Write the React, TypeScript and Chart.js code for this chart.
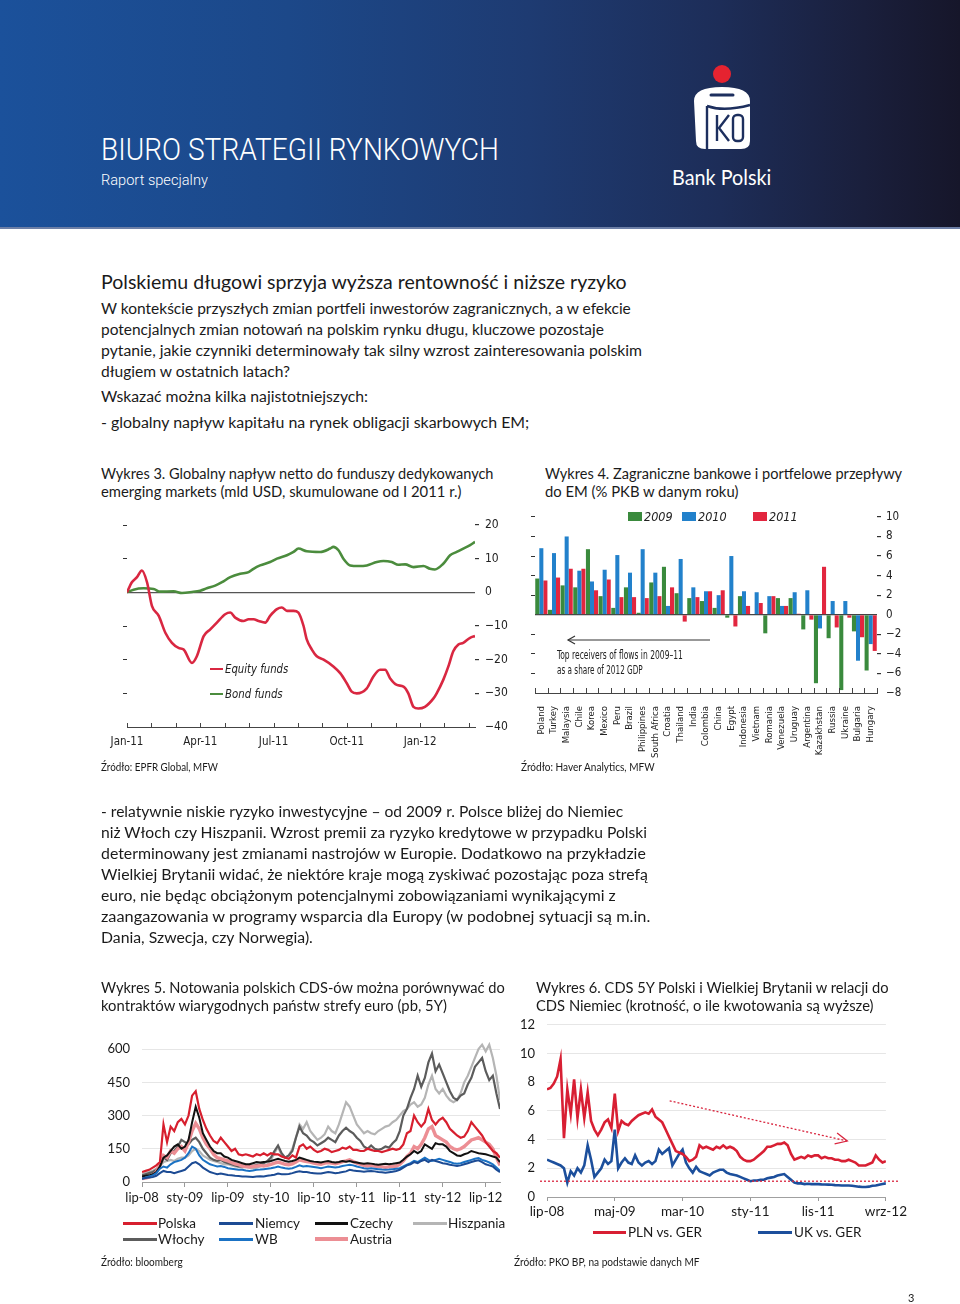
import React, { useEffect, useLayoutEffect, useRef, useState } from 'react';
import { Chart, registerables } from 'chart.js';
Chart.register(...registerables);

// ---------------- Wykres 3 (mld USD, months since Jan-11) ----------------
const w3TickMonths = [0, 3, 6, 9, 12];
const w3TickLabels = ['Jan-11', 'Apr-11', 'Jul-11', 'Oct-11', 'Jan-12'];
const equityMonths = [0, 0.2, 0.41, 0.61, 0.82, 1.02, 1.3, 1.57, 1.84, 2.11, 2.32, 2.66, 2.86, 3.14, 3.41, 3.68, 4.02, 4.23, 4.43, 4.77, 4.98, 5.18, 5.39, 5.66, 5.86, 6.14, 6.34, 6.55, 6.82, 7.02, 7.23, 7.36, 7.57, 7.77, 8.05, 8.45, 8.73, 9.0, 9.2, 9.41, 9.82, 10.09, 10.36, 10.57, 10.77, 11.05, 11.32, 11.52, 11.73, 11.93, 12.2, 12.55, 12.68, 12.95, 13.16, 13.36, 13.57, 13.77, 14.05, 14.25];
const equityValues = [0, 3, 4.5, 6.5, 3, -4, -7, -12, -15, -16.5, -17, -21, -19, -13, -11, -9, -6.5, -6, -7.5, -8.5, -8, -8, -8.5, -9, -7, -5, -4.5, -5.5, -5.5, -6, -10, -14, -17, -19, -20, -22, -24, -27, -29.5, -30, -28.5, -25, -23, -23, -25.5, -27.5, -28, -30, -34, -34.5, -34, -31.5, -30, -26, -22, -17.5, -15.5, -15, -13.5, -13];
const bondMonths = [0, 0.27, 0.68, 1.09, 1.36, 1.91, 2.25, 2.66, 3.0, 3.27, 3.61, 3.89, 4.23, 4.64, 4.98, 5.18, 5.45, 5.86, 6.14, 6.55, 6.82, 7.02, 7.36, 7.91, 8.32, 8.45, 8.66, 8.86, 9.14, 9.48, 9.82, 10.23, 10.5, 10.84, 11.11, 11.39, 11.73, 12.14, 12.41, 12.61, 12.95, 13.23, 13.5, 13.77, 14.05, 14.25];
const bondValues = [0, 0.8, 1.2, 1, 0.2, 0.3, -0.2, 0.1, 0.5, 1.2, 2, 3, 4.5, 5.5, 6, 7, 8, 9, 10, 11, 12, 13, 12.2, 12, 13, 13.5, 12.5, 10, 8, 7.8, 8, 9, 9.3, 9, 8.2, 8.3, 7.5, 7.8, 7, 6.8, 8.5, 11, 12, 13, 14, 15];

// ---------------- Wykres 4 (% PKB) ----------------
const w4Countries = ['Poland', 'Turkey', 'Malaysia', 'Chile', 'Korea', 'Mexico', 'Peru', 'Brazil', 'Philippines', 'South Africa', 'Croatia', 'Thailand', 'India', 'Colombia', 'China', 'Egypt', 'Indonesia', 'Vietnam', 'Romania', 'Venezuela', 'Uruguay', 'Argentina', 'Kazakhstan', 'Russia', 'Ukraine', 'Bulgaria', 'Hungary'];
const w4y2009 = [3.7, 0.5, 3.0, 2.8, 6.7, 1.9, 0.7, 2.8, 0.2, 3.3, 4.9, 2.2, 1.7, 1.4, 0.7, -0.3, 1.9, 0.0, -1.9, 1.7, 1.7, -1.5, -7.0, -2.4, -7.7, -1.7, -5.7];
const w4y2010 = [6.8, 6.3, 8.0, 4.5, 3.4, 4.6, 6.1, 4.3, 6.7, 4.3, 0.9, 5.7, 2.8, 2.4, 2.0, 6.0, 2.4, 2.3, 1.9, 0.9, 2.3, 2.5, -1.4, 1.4, 1.4, -4.7, -3.0];
const w4y2011 = [3.5, 3.8, 4.7, 4.7, 2.5, 3.6, 1.8, 1.8, 1.7, 1.9, 2.8, -0.7, 1.8, 2.4, 2.5, -1.2, 0.9, 1.2, 1.9, 0.9, 0.1, -0.5, 4.9, -1.3, -0.3, -2.3, -3.7];

// ---------------- Wykres 5 (pb, half-month samples from lip-08) ----------------
const w5TickMonths = [0, 6, 12, 18, 24, 30, 36, 42, 48];
const w5TickLabels = ['lip-08', 'sty-09', 'lip-09', 'sty-10', 'lip-10', 'sty-11', 'lip-11', 'sty-12', 'lip-12'];
const w5YTicks = [0, 150, 300, 450, 600];
const polska = [
  45, 50, 55, 65, 75, 90, 260, 180, 250, 230,
  270, 285, 260, 300, 390, 410, 330, 280, 240, 210,
  185, 175, 200, 180, 160, 140, 150, 125, 120, 125,
  120, 115, 125, 120, 130, 120, 130, 125, 125, 115,
  110, 105, 120, 110, 160, 170, 150, 160, 145, 135,
  140, 150, 145, 135, 140, 145, 155, 150, 160, 145,
  145, 140, 140, 150, 145, 140, 140, 135, 140, 145,
  150, 145, 150, 170, 220, 230, 300, 270, 250, 270,
  330, 280, 260, 280, 290, 270, 240, 225, 210, 200,
  205, 230, 270, 250, 230, 210, 180, 160, 140, 130,
  110];
const wlochy = [
  30, 35, 40, 45, 55, 70, 110, 100, 130, 140,
  160, 190, 180, 170, 190, 200, 180, 150, 130, 110,
  100, 95, 100, 90, 85, 80, 75, 70, 70, 72,
  75, 72, 78, 80, 85, 95, 110, 140, 165, 130,
  110, 120, 140, 200, 250, 220, 210, 190, 180, 165,
  175, 185, 200, 190, 180, 210, 230, 245, 230, 220,
  200, 185, 160, 150, 165, 150, 145, 150, 160, 155,
  175, 190, 230, 300, 330, 380, 420, 480, 430, 470,
  540, 580, 500, 530, 490, 450, 410, 380, 370, 390,
  400, 440, 470, 520, 540, 560, 500, 460, 480, 400,
  330];
const hiszpania = [
  35, 40, 45, 50, 60, 70, 90, 95, 100, 95,
  105, 110, 110, 120, 140, 150, 140, 120, 110, 100,
  95, 90, 85, 80, 80, 75, 70, 68, 65, 68,
  65, 62, 65, 70, 75, 80, 100, 130, 160, 120,
  110, 120, 150, 200, 260, 240, 270, 230, 210, 190,
  200, 215, 250, 230, 220, 260, 310, 360, 340, 300,
  260, 240, 220, 230, 220, 215, 230, 240, 250, 255,
  270, 280, 300, 320, 330, 350, 360, 340, 350, 380,
  440, 480, 420, 400, 420, 390, 370, 360, 370, 400,
  450, 480, 520, 560, 600, 620, 590, 620, 560, 480,
  370];
const czechy = [
  25, 28, 30, 35, 45, 70, 110, 120, 140, 160,
  170, 150, 160, 190, 270, 340, 290, 220, 190, 160,
  140, 130, 130, 115, 110, 100, 95, 90, 85, 80,
  80, 85, 90, 88, 90, 92, 95, 100, 105, 100,
  95, 92, 95, 100, 110, 105, 100, 95, 92, 90,
  88, 92, 95, 90, 88, 90, 95, 92, 95, 90,
  88, 85, 82, 85, 83, 80, 78, 80, 82, 80,
  82, 85, 88, 100, 115, 125, 140, 130, 140, 170,
  160, 150, 175, 170, 170, 160, 140, 130, 120, 118,
  125, 130, 140, 135, 130, 128, 125, 120, 115, 110,
  90];
const niemcy = [
  15, 18, 20, 22, 28, 40, 50, 45, 45, 40,
  45, 50, 55, 70, 85, 90, 80, 65, 55, 45,
  40, 35, 38, 35, 32, 30, 28, 27, 25, 25,
  24, 23, 25, 26, 25, 28, 30, 33, 38, 35,
  35, 36, 40, 45, 48, 45, 45, 42, 40, 38,
  38, 42, 45, 43, 40, 42, 45, 48, 55, 52,
  50, 48, 46, 48, 50, 48, 45, 44, 42, 44,
  46, 50, 55, 65, 75, 80, 90, 85, 95, 100,
  90, 100, 95, 90, 85, 82, 78, 75, 72, 75,
  80, 85, 90, 95, 98, 90, 80, 75, 70, 55,
  45];
const wb = [
  15, 20, 25, 30, 40, 60, 70, 65, 80, 90,
  95, 100, 110, 130, 160, 150, 120, 100, 90, 80,
  75, 70, 72, 68, 62, 60, 58, 55, 55, 52,
  50, 52, 55, 56, 58, 60, 62, 65, 70, 65,
  62, 60, 62, 68, 75, 70, 72, 70, 68, 65,
  62, 66, 70, 68, 66, 68, 72, 75, 78, 75,
  70, 66, 62, 60, 62, 60, 58, 56, 55, 56,
  58, 60, 62, 70, 78, 85, 95, 90, 100, 110,
  100, 95, 100, 105, 100, 95, 90, 85, 82, 85,
  90, 95, 100, 105, 108, 100, 95, 88, 80, 65,
  50];
const austria = [
  15, 18, 22, 30, 45, 80, 120, 110, 140, 130,
  150, 160, 140, 180, 230, 265, 240, 200, 170, 150,
  125, 110, 105, 100, 95, 88, 82, 78, 72, 70,
  68, 70, 72, 75, 72, 75, 80, 85, 90, 85,
  80, 78, 82, 90, 100, 95, 92, 90, 85, 82,
  80, 85, 88, 85, 82, 86, 92, 95, 100, 92,
  85, 80, 75, 72, 75, 72, 70, 68, 66, 68,
  70, 72, 80, 95, 115, 130, 160, 150, 170, 200,
  240, 250, 210, 200, 190, 180, 160, 150, 145, 150,
  160, 175, 190, 195, 200, 190, 180, 170, 150, 110,
  75];

// ---------------- Wykres 6 (krotność, half-month samples from lip-08) ----------------
const w6TickMonths = [0, 10, 20, 30, 40, 50];
const w6TickLabels = ['lip-08', 'maj-09', 'mar-10', 'sty-11', 'lis-11', 'wrz-12'];
const plnVsGer = [
  7.5, 7.6, 7.9, 8.4, 9.6, 4.1, 7.5, 5.8, 8.2, 5.5,
  7.5, 5.5, 7.3, 5.3, 4.7, 4.3, 4.7, 5.2, 5.4, 4.8,
  7.2, 4.6, 5.3, 5.1, 5.0, 5.3, 5.5, 5.7, 5.8, 5.9,
  5.8, 6.1, 5.6, 5.4, 5.2, 4.7, 4.2, 3.7, 3.2, 3.1,
  3.0, 2.8, 2.5, 2.6, 2.8, 3.6, 3.4, 3.5, 3.4, 3.3,
  3.5, 3.4, 3.6, 3.4, 3.5, 3.4, 3.2, 2.8, 2.6, 2.5,
  2.5, 2.6, 2.8, 3.0, 3.2, 3.5, 3.5, 3.6, 3.7, 3.7,
  3.8, 3.6, 3.0, 2.6, 2.7, 2.8, 2.7, 2.9, 2.8, 2.9,
  2.9, 2.7, 2.8, 2.7, 2.7, 2.6, 2.6, 2.5, 2.5, 2.6,
  2.5, 2.4, 2.2, 2.2, 2.2, 2.3, 2.4, 2.9, 2.6, 2.4,
  2.5];
const ukVsGer = [
  2.6, 2.5, 2.4, 2.3, 2.2, 2.0, 1.0, 1.8, 1.5, 2.0,
  1.7, 2.2, 3.6, 2.6, 1.4, 1.7, 2.0, 2.6, 2.3, 2.5,
  4.7, 2.0, 2.4, 2.7, 2.4, 2.3, 2.9, 2.4, 2.2, 2.4,
  2.5, 2.3, 2.5, 3.3, 3.0, 3.2, 3.4, 2.2, 2.6, 3.0,
  3.3, 2.4, 2.0, 1.7, 2.1, 1.8, 1.7, 1.6, 1.5, 1.7,
  1.8, 1.9, 1.9, 1.7, 1.6, 1.55, 1.5, 1.4, 1.3, 1.2,
  1.1, 1.15, 1.15, 1.2, 1.2, 1.3, 1.35, 1.4, 1.5, 1.55,
  1.6, 1.4, 1.2, 1.0, 0.95, 0.95, 0.9, 0.92, 0.9, 0.9,
  0.9, 0.88, 0.87, 0.86, 0.85, 0.83, 0.82, 0.8, 0.8, 0.8,
  0.78, 0.75, 0.72, 0.7, 0.7, 0.72, 0.78, 0.8, 0.85, 0.9,
  0.95];
const parityLevel = 1.1;
const trendFrom = [18.1, 6.7];
const trendTo = [44.3, 3.9];

// ---------------- styling ----------------
const BODY = 'Lato, "Noto Sans", "DejaVu Sans", sans-serif';
const COND = '"Liberation Sans Narrow", "DejaVu Sans Condensed", Roboto, "Liberation Sans", sans-serif';
const THIN = 'Roboto, "Liberation Sans", sans-serif';
const INK = '#1a1a1a';
const CLEAR = 'rgba(0,0,0,0)';
const signed = (v: number) => (v < 0 ? '\u2212' + Math.abs(v) : String(v));
const halfMonth = (arr: number[]) => arr.map((v, i) => ({ x: i / 2, y: v }));
const pairs = (xs: number[], ys: number[]) => xs.map((x, i) => ({ x, y: ys[i] }));

function T(props: any) {
  const { x, y, text, size, w, family = BODY, color = INK, italic, weight } = props;
  const ref = useRef<HTMLSpanElement>(null);
  const [sx, setSx] = useState(1);
  useLayoutEffect(() => {
    if (!w || !ref.current) return;
    const nat = ref.current.offsetWidth;
    if (nat > 0) setSx(w / nat);
  }, [w, text]);
  const lh = size * 1.2;
  return (
    <span
      ref={ref}
      style={{
        position: 'absolute', left: x, top: y - 0.62 * size, fontSize: size, lineHeight: lh + 'px',
        fontFamily: family, color, whiteSpace: 'nowrap', fontStyle: italic ? 'italic' : 'normal',
        fontWeight: weight ?? 400, transform: `scaleX(${sx})`, transformOrigin: '0 0',
      }}
    >{text}</span>
  );
}

function Box(props: any) {
  const { x, y, w, h, bg } = props;
  return <div style={{ position: 'absolute', left: x, top: y, width: w, height: h, background: bg }} />;
}

function ChartBox(props: any) {
  const { x, y, w, h, make } = props;
  const ref = useRef<HTMLCanvasElement>(null);
  useEffect(() => {
    const chart = new Chart(ref.current as any, make());
    return () => chart.destroy();
  }, []);
  return (
    <div style={{ position: 'absolute', left: x, top: y, width: w, height: h }}>
      <canvas ref={ref} width={w} height={h} style={{ width: w, height: h, display: 'block' }} />
    </div>
  );
}

const hideAt = (vals: number[], col: string) => (ctx: any) => (ctx.tick && vals.includes(ctx.tick.value) ? CLEAR : col);

// upward ticks on a bottom axis
const upTicks = (positions: (s: any) => number[], len: number, color: string) => ({
  id: 'upTicks',
  afterDraw(chart: any) {
    const xs = chart.scales.x;
    const ctx = chart.ctx;
    const b = chart.chartArea.bottom;
    ctx.save();
    ctx.strokeStyle = color;
    ctx.lineWidth = 1;
    ctx.beginPath();
    positions(xs).forEach((px) => {
      const p = Math.round(px) + 0.5;
      ctx.moveTo(p, b);
      ctx.lineTo(p, b - len);
    });
    ctx.stroke();
    ctx.restore();
  },
});

function w3Config(): any {
  const monthsAll = Array.from({ length: 15 }, (_, i) => i);
  return {
    type: 'line',
    data: {
      datasets: [
        { label: 'Equity funds', data: pairs(equityMonths, equityValues), borderColor: '#d92741', borderWidth: 2.6, pointRadius: 0, cubicInterpolationMode: 'monotone', yAxisID: 'y2' },
        { label: 'Bond funds', data: pairs(bondMonths, bondValues), borderColor: '#4b8c3d', borderWidth: 2.6, pointRadius: 0, cubicInterpolationMode: 'monotone', yAxisID: 'y2' },
      ],
    },
    options: {
      responsive: false, animation: false,
      layout: { padding: { top: 20, left: 0, right: 0, bottom: 0 } },
      plugins: { legend: { display: false }, tooltip: { enabled: false } },
      scales: {
        x: {
          type: 'linear', min: 0, max: 14.25,
          afterBuildTicks: (s: any) => { s.ticks = w3TickMonths.map((v) => ({ value: v })); },
          afterFit: (s: any) => { s.height = 28; },
          grid: { display: false, drawTicks: false },
          border: { display: true, color: '#444', width: 1 },
          ticks: { callback: (v: number) => w3TickLabels[w3TickMonths.indexOf(v)] ?? '', font: { family: COND, size: 11.5 }, color: '#222', padding: 8, maxRotation: 0, autoSkip: false },
        },
        y: {
          position: 'left', min: -40, max: 20,
          ticks: { display: false, stepSize: 10 },
          grid: { drawOnChartArea: false, drawTicks: true, tickLength: 4, tickColor: hideAt([0, -40], '#333') },
          border: { display: false },
          afterFit: (s: any) => { s.width = 27; },
        },
        y2: {
          position: 'right', min: -40, max: 20,
          ticks: { stepSize: 10, callback: (v: number) => signed(v), font: { family: COND, size: 12 }, color: '#222', padding: 6 },
          grid: { color: (c: any) => (c.tick && c.tick.value === 0 ? '#555' : CLEAR), lineWidth: 1.2, drawTicks: true, tickLength: 4, tickColor: hideAt([0, -40], '#333') },
          border: { display: false },
          afterFit: (s: any) => { s.width = 45; },
        },
      },
    },
    plugins: [upTicks((xs) => monthsAll.map((m) => xs.getPixelForValue(m)), 4, '#444')],
  };
}

function w4Config(): any {
  const bounds = Array.from({ length: w4Countries.length + 1 }, (_, i) => i - 0.5);
  return {
    type: 'bar',
    data: {
      labels: w4Countries,
      datasets: [
        { label: '2009', data: w4y2009, backgroundColor: '#3a8a3d', yAxisID: 'y2' },
        { label: '2010', data: w4y2010, backgroundColor: '#2281cb', yAxisID: 'y2' },
        { label: '2011', data: w4y2011, backgroundColor: '#e2263f', yAxisID: 'y2' },
      ],
    },
    options: {
      responsive: false, animation: false,
      layout: { padding: { top: 11, left: 0, right: 0, bottom: 0 } },
      datasets: { bar: { barPercentage: 1, categoryPercentage: 0.96 } },
      plugins: { legend: { display: false }, tooltip: { enabled: false } },
      scales: {
        x: {
          grid: { display: false },
          border: { display: true, color: '#444', width: 1 },
          ticks: { autoSkip: false, maxRotation: 90, minRotation: 90, font: { family: COND, size: 9.5 }, color: '#222', padding: 5 },
          afterFit: (s: any) => { s.height = 74; },
        },
        y: {
          position: 'left', min: -8, max: 10,
          ticks: { display: false, stepSize: 2 },
          grid: { drawOnChartArea: false, drawTicks: true, tickLength: 4, tickColor: hideAt([0, -8], '#333') },
          border: { display: false },
          afterFit: (s: any) => { s.width = 15; },
        },
        y2: {
          position: 'right', min: -8, max: 10,
          ticks: { stepSize: 2, callback: (v: number) => signed(v), font: { family: COND, size: 11.5 }, color: '#222', padding: 5 },
          grid: { color: (c: any) => (c.tick && c.tick.value === 0 ? '#444' : CLEAR), lineWidth: 1.2, drawTicks: true, tickLength: 4, tickColor: hideAt([0, -8], '#333') },
          border: { display: false },
          afterFit: (s: any) => { s.width = 43; },
        },
      },
    },
    plugins: [upTicks((xs) => bounds.map((b) => xs.getPixelForValue(b)), 5, '#444')],
  };
}

function w5Config(): any {
  const line = (label: string, data: number[], color: string, width: number) => ({
    label, data: halfMonth(data), borderColor: color, borderWidth: width, pointRadius: 0, tension: 0,
  });
  return {
    type: 'line',
    data: {
      datasets: [
        line('Polska', polska, '#d71f2e', 2.2),
        line('Niemcy', niemcy, '#1c4b94', 2),
        line('WB', wb, '#1a72c4', 2),
        line('Czechy', czechy, '#111111', 2),
        line('Austria', austria, '#ec8e94', 3.4),
        line('Włochy', wlochy, '#5c5c5c', 2.2),
        line('Hiszpania', hiszpania, '#b5b5b5', 2.2),
      ],
    },
    options: {
      responsive: false, animation: false,
      layout: { padding: { top: 0, left: 0, right: 10, bottom: 0 } },
      plugins: { legend: { display: false }, tooltip: { enabled: false } },
      scales: {
        x: {
          type: 'linear', min: 0, max: 50,
          afterBuildTicks: (s: any) => { s.ticks = w5TickMonths.map((v) => ({ value: v })); },
          afterFit: (s: any) => { s.height = 33; },
          grid: { display: true, drawOnChartArea: false, drawTicks: true, tickLength: 5, tickColor: '#999' },
          border: { display: true, color: '#a0a0a0', width: 1 },
          ticks: { callback: (v: number) => w5TickLabels[w5TickMonths.indexOf(v)] ?? '', font: { family: BODY, size: 13 }, color: INK, padding: 3, maxRotation: 0, autoSkip: false },
        },
        y: {
          min: 0, max: 660,
          afterBuildTicks: (s: any) => { s.ticks = w5YTicks.map((v) => ({ value: v })); },
          afterFit: (s: any) => { s.width = 42; },
          grid: { color: (c: any) => (c.tick && c.tick.value === 0 ? CLEAR : '#e6e6e6'), drawTicks: false },
          border: { display: false },
          ticks: { font: { family: BODY, size: 13 }, color: INK, padding: 12 },
        },
      },
    },
  };
}

const w6Annotations = {
  id: 'w6Annotations',
  afterDatasetsDraw(chart: any) {
    const { ctx, chartArea } = chart;
    const xs = chart.scales.x;
    const ys = chart.scales.y;
    ctx.save();
    ctx.strokeStyle = '#d9263f';
    ctx.lineWidth = 1.3;
    // parity level
    ctx.setLineDash([2, 2]);
    const py = ys.getPixelForValue(parityLevel);
    ctx.beginPath();
    ctx.moveTo(chartArea.left - 7, py);
    ctx.lineTo(chartArea.right + 13, py);
    ctx.stroke();
    // trend arrow
    const x1 = xs.getPixelForValue(trendFrom[0]);
    const y1 = ys.getPixelForValue(trendFrom[1]);
    const x2 = xs.getPixelForValue(trendTo[0]);
    const y2 = ys.getPixelForValue(trendTo[1]);
    ctx.beginPath();
    ctx.moveTo(x1, y1);
    ctx.lineTo(x2, y2);
    ctx.stroke();
    ctx.setLineDash([]);
    const ang = Math.atan2(y2 - y1, x2 - x1);
    const L = 13;
    ctx.beginPath();
    ctx.moveTo(x2 - L * Math.cos(ang - 0.45), y2 - L * Math.sin(ang - 0.45));
    ctx.lineTo(x2, y2);
    ctx.lineTo(x2 - L * Math.cos(ang + 0.45), y2 - L * Math.sin(ang + 0.45));
    ctx.stroke();
    ctx.restore();
  },
};

function w6Config(): any {
  return {
    type: 'line',
    data: {
      datasets: [
        { label: 'PLN vs. GER', data: halfMonth(plnVsGer), borderColor: '#d81f33', borderWidth: 2.6, pointRadius: 0, tension: 0 },
        { label: 'UK vs. GER', data: halfMonth(ukVsGer), borderColor: '#1c4f9c', borderWidth: 2.6, pointRadius: 0, tension: 0 },
      ],
    },
    options: {
      responsive: false, animation: false,
      layout: { padding: { top: 0, left: 0, right: 13, bottom: 0 } },
      plugins: { legend: { display: false }, tooltip: { enabled: false } },
      scales: {
        x: {
          type: 'linear', min: 0, max: 50,
          afterBuildTicks: (s: any) => { s.ticks = w6TickMonths.map((v) => ({ value: v })); },
          afterFit: (s: any) => { s.height = 33; },
          grid: { display: true, drawOnChartArea: false, drawTicks: true, tickLength: 4, tickColor: '#999' },
          border: { display: true, color: '#a0a0a0', width: 1 },
          ticks: { callback: (v: number) => w6TickLabels[w6TickMonths.indexOf(v)] ?? '', font: { family: BODY, size: 13.5 }, color: INK, padding: 3, maxRotation: 0, autoSkip: false },
        },
        y: {
          min: 0, max: 12,
          ticks: { stepSize: 2, font: { family: BODY, size: 13 }, color: INK, padding: 12 },
          afterFit: (s: any) => { s.width = 37; },
          grid: { color: (c: any) => (c.tick && c.tick.value === 0 ? CLEAR : '#e6e6e6'), drawTicks: false },
          border: { display: false },
        },
      },
    },
    plugins: [w6Annotations],
  };
}

function Logo() {
  const dark = '#1d2f5e';
  return (
    <svg width={960} height={228} style={{ position: 'absolute', left: 0, top: 0 }}>
      <circle cx={722} cy={74} r={9} fill="#e52330" />
      <path d="M694,101 Q694,87 722,87 Q750,87 750,101 L750,141 Q750,149 741,149 L705,149 Q696,149 696,141 Z" fill="#fff" />
      <path d="M707,106 Q724,112 750,105" stroke={dark} strokeWidth={2.4} fill="none" />
      <line x1={711} y1={95} x2={733} y2={95} stroke={dark} strokeWidth={3} strokeLinecap="round" />
      <line x1={707} y1={106} x2={707} y2={149} stroke={dark} strokeWidth={2.4} />
      <line x1={717} y1={115} x2={717} y2={141} stroke={dark} strokeWidth={2.4} />
      <polyline points="729,115 719,128 729,141" stroke={dark} strokeWidth={2.4} fill="none" />
      <rect x={733} y={115} width={10} height={26} rx={4} stroke={dark} strokeWidth={2.4} fill="none" />
    </svg>
  );
}

function LegendLine(props: any) {
  const { x, y, w, color, h = 3 } = props;
  return <div style={{ position: 'absolute', left: x, top: y - h / 2, width: w, height: h, background: color }} />;
}

export default function App() {
  return (
    <div style={{ position: 'absolute', left: 0, top: 0, width: 960, height: 1304, background: '#fff', overflow: 'hidden' }}>
      {/* header */}
      <div style={{ position: 'absolute', left: 0, top: 0, width: 960, height: 227, background: 'linear-gradient(90deg, #1b519b 0%, #1c4889 30%, #1e3b72 55%, #1d2d58 75%, #1a1f3c 90%, #16162a 100%)' }} />
      <Box x={0} y={227} w={960} h={2} bg="#6d7fa6" />
      <Logo />
      <T x={101} y={150} text="BIURO STRATEGII RYNKOWYCH" size={31} w={398} family={THIN} weight={300} color="#fff" />
      <T x={101} y={180} text="Raport specjalny" size={15} w={107} family={THIN} weight={300} color="#fff" />
      <T x={672} y={177} text="Bank Polski" size={21} w={99} color="#fff" />

      {/* section 1 */}
      <T x={101} y={282} text="Polskiemu długowi sprzyja wyższa rentowność i niższe ryzyko" size={19.5} w={526} />
      <T x={101} y={309} text="W kontekście przyszłych zmian portfeli inwestorów zagranicznych, a w efekcie" size={15.5} w={530} />
      <T x={101} y={330} text="potencjalnych zmian notowań na polskim rynku długu, kluczowe pozostaje" size={15.5} w={503} />
      <T x={101} y={351} text="pytanie, jakie czynniki determinowały tak silny wzrost zainteresowania polskim" size={15.5} w={541} />
      <T x={101} y={372} text="długiem w ostatnich latach?" size={15.5} w={189} />
      <T x={101} y={397} text="Wskazać można kilka najistotniejszych:" size={15.5} w={267} />
      <T x={101} y={423} text="- globalny napływ kapitału na rynek obligacji skarbowych EM;" size={15.5} w={428} />

      {/* chart titles 3 & 4 */}
      <T x={101} y={474} text="Wykres 3. Globalny napływ netto do funduszy dedykowanych" size={14.5} w={392} />
      <T x={101} y={492} text="emerging markets (mld USD, skumulowane od I 2011 r.)" size={14.5} w={360} />
      <T x={545} y={474} text="Wykres 4. Zagraniczne bankowe i portfelowe przepływy" size={14.5} w={357} />
      <T x={545} y={492} text="do EM (% PKB w danym roku)" size={14.5} w={193} />

      <ChartBox x={100} y={505} w={420} h={250} make={w3Config} />
      <LegendLine x={210} y={669} w={13} color="#d92741" h={2.6} />
      <T x={225} y={669} text="Equity funds" size={12.5} family={COND} italic w={63} color="#222" />
      <LegendLine x={210} y={694} w={13} color="#4b8c3d" h={2.6} />
      <T x={225} y={694} text="Bond funds" size={12.5} family={COND} italic w={58} color="#222" />

      <ChartBox x={520} y={505} w={400} h={262} make={w4Config} />
      <Box x={628} y={512} w={14} h={9} bg="#3a8a3d" />
      <T x={644} y={517} text="2009" size={12.5} family={COND} italic color="#222" />
      <Box x={682} y={512} w={14} h={9} bg="#2281cb" />
      <T x={698} y={517} text="2010" size={12.5} family={COND} italic color="#222" />
      <Box x={753} y={512} w={14} h={9} bg="#e2263f" />
      <T x={769} y={517} text="2011" size={12.5} family={COND} italic color="#222" />
      <svg width={960} height={1304} style={{ position: 'absolute', left: 0, top: 0, pointerEvents: 'none' }}>
        <line x1={568} y1={640} x2={710} y2={640} stroke="#333" strokeWidth={1.2} />
        <polyline points="575,636 568,640 575,644" stroke="#333" strokeWidth={1.2} fill="none" />
      </svg>
      <T x={557} y={656} text="Top receivers of flows in 2009–11" size={11.5} family={COND} w={126} color="#222" />
      <T x={557} y={671} text="as a share of 2012 GDP" size={11.5} family={COND} w={86} color="#222" />

      <T x={101} y={768} text="Źródło: EPFR Global, MFW" size={10.5} w={117} />
      <T x={521} y={768} text="Źródło: Haver Analytics, MFW" size={10.5} w={134} />

      {/* section 2 */}
      <T x={101} y={812} text="- relatywnie niskie ryzyko inwestycyjne – od 2009 r. Polsce bliżej do Niemiec" size={15.5} w={522} />
      <T x={101} y={833} text="niż Włoch czy Hiszpanii. Wzrost premii za ryzyko kredytowe w przypadku Polski" size={15.5} w={546} />
      <T x={101} y={854} text="determinowany jest zmianami nastrojów w Europie. Dodatkowo na przykładzie" size={15.5} w={545} />
      <T x={101} y={875} text="Wielkiej Brytanii widać, że niektóre kraje mogą zyskiwać pozostając poza strefą" size={15.5} w={547} />
      <T x={101} y={896} text="euro, nie będąc obciążonym potencjalnymi zobowiązaniami wynikającymi z" size={15.5} w={515} />
      <T x={101} y={917} text="zaangazowania w programy wsparcia dla Europy (w podobnej sytuacji są m.in." size={15.5} w={549} />
      <T x={101} y={938} text="Dania, Szwecja, czy Norwegia)." size={15.5} w={212} />

      {/* chart titles 5 & 6 */}
      <T x={101} y={988} text="Wykres 5. Notowania polskich CDS-ów można porównywać do" size={14.5} w={404} />
      <T x={101} y={1006} text="kontraktów wiarygodnych państw strefy euro (pb, 5Y)" size={14.5} w={346} />
      <T x={536} y={988} text="Wykres 6. CDS 5Y Polski i Wielkiej Brytanii w relacji do" size={14.5} w={353} />
      <T x={536} y={1006} text="CDS Niemiec (krotność, o ile kwotowania są wyższe)" size={14.5} w={338} />

      <ChartBox x={100} y={1016} w={410} h={199} make={w5Config} />
      <LegendLine x={123} y={1223} w={34} color="#d71f2e" />
      <T x={158} y={1223} text="Polska" size={13.5} />
      <LegendLine x={219} y={1223} w={34} color="#1c4b94" />
      <T x={255} y={1223} text="Niemcy" size={13.5} />
      <LegendLine x={315} y={1223} w={33} color="#111111" />
      <T x={350} y={1223} text="Czechy" size={13.5} />
      <LegendLine x={413} y={1223} w={34} color="#b5b5b5" />
      <T x={448} y={1223} text="Hiszpania" size={13.5} />
      <LegendLine x={123} y={1239} w={34} color="#5c5c5c" />
      <T x={158} y={1239} text="Włochy" size={13.5} />
      <LegendLine x={219} y={1239} w={34} color="#1a72c4" />
      <T x={255} y={1239} text="WB" size={13.5} />
      <LegendLine x={315} y={1239} w={33} color="#ec8e94" h={4.5} />
      <T x={350} y={1239} text="Austria" size={13.5} />

      <ChartBox x={510} y={1005} w={400} h={225} make={w6Config} />
      <LegendLine x={593} y={1232} w={33} color="#d81f33" />
      <T x={628} y={1232} text="PLN vs. GER" size={13.5} />
      <LegendLine x={758} y={1232} w={34} color="#1c4f9c" />
      <T x={794} y={1232} text="UK vs. GER" size={13.5} />

      <T x={101} y={1263} text="Źródło: bloomberg" size={10.5} w={82} />
      <T x={514} y={1263} text="Źródło: PKO BP, na podstawie danych MF" size={10.5} w={186} />
      <T x={908} y={1298} text="3" size={11} />
    </div>
  );
}
